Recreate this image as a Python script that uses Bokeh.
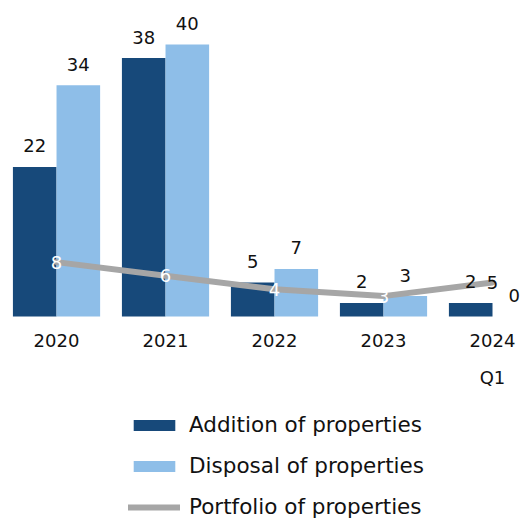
from bokeh.plotting import figure
from bokeh.models import ColumnDataSource, Range1d, Legend, LegendItem
from bokeh.transform import dodge
from bokeh.core.properties import value
from bokeh.embed import file_html
from bokeh.resources import INLINE

# ---- data ----
years = ["2020", "2021", "2022", "2023", "2024"]
periods = ["", "", "", "", "Q1"]
addition = [22, 38, 5, 2, 2]
disposal = [34, 40, 7, 3, 0]
portfolio = [8, 6, 4, 3, 5]

FONT = "DejaVu Sans"
DARK = "#17497A"
LIGHT = "#8EBEE8"
GREY = "#A6A6A6"
INK = "#111111"

idx = list(range(len(years)))
# line labels are white where they sit on a bar, dark otherwise
port_colors = ["white" if max(a, d) >= v else INK
               for a, d, v in zip(addition, disposal, portfolio)]

src = ColumnDataSource(dict(
    x=idx, year=years, period=periods,
    add=addition, dis=disposal, port=portfolio,
    add_lbl=[str(v) for v in addition],
    dis_lbl=[str(v) for v in disposal],
    port_lbl=[str(v) for v in portfolio],
    port_col=port_colors,
    zero=[0] * len(idx),
))

p = figure(width=521, height=519, output_backend="svg", toolbar_location=None,
           x_range=Range1d(-0.514, 4.266), y_range=Range1d(-29.85, 46.47),
           x_axis_location=None, y_axis_location=None,
           min_border=0, min_border_left=0, min_border_right=0,
           min_border_top=0, min_border_bottom=0)
p.grid.visible = False
p.outline_line_color = None
p.background_fill_color = "white"
p.border_fill_color = "white"

r_add = p.vbar(x=dodge("x", -0.2), top="add", width=0.4, source=src,
               fill_color=DARK, line_color=None)
r_dis = p.vbar(x=dodge("x", 0.2), top="dis", width=0.4, source=src,
               fill_color=LIGHT, line_color=None)
r_line = p.line(x="x", y="port", source=src, line_color=GREY, line_width=6,
                line_cap="round", line_join="round")

common = dict(text_font=value(FONT), text_font_size="18px",
              text_align="center", text_baseline="middle")
p.text(x=dodge("x", -0.2), y="add", text="add_lbl", source=src,
       y_offset=-21, text_color=INK, **common)
p.text(x=dodge("x", 0.2), y="dis", text="dis_lbl", source=src,
       y_offset=-21, text_color=INK, **common)
p.text(x="x", y="port", text="port_lbl", source=src,
       text_color="port_col", **common)
p.text(x="x", y="zero", text="year", source=src,
       y_offset=24, text_color=INK, **common)
p.text(x="x", y="zero", text="period", source=src,
       y_offset=61, text_color=INK, **common)

legend = Legend(items=[
    LegendItem(label="Addition of properties", renderers=[r_add]),
    LegendItem(label="Disposal of properties", renderers=[r_dis]),
    LegendItem(label="Portfolio of properties", renderers=[r_line]),
], location=(128, 0), orientation="vertical",
    glyph_width=52, glyph_height=14, label_height=20, spacing=16,
    label_standoff=9, padding=0, margin=0,
    border_line_color=None, background_fill_alpha=0,
    label_text_font=FONT, label_text_font_size="21.5px",
    label_text_color=INK)
p.add_layout(legend)

open("out.html", "w").write(file_html(p, INLINE))
